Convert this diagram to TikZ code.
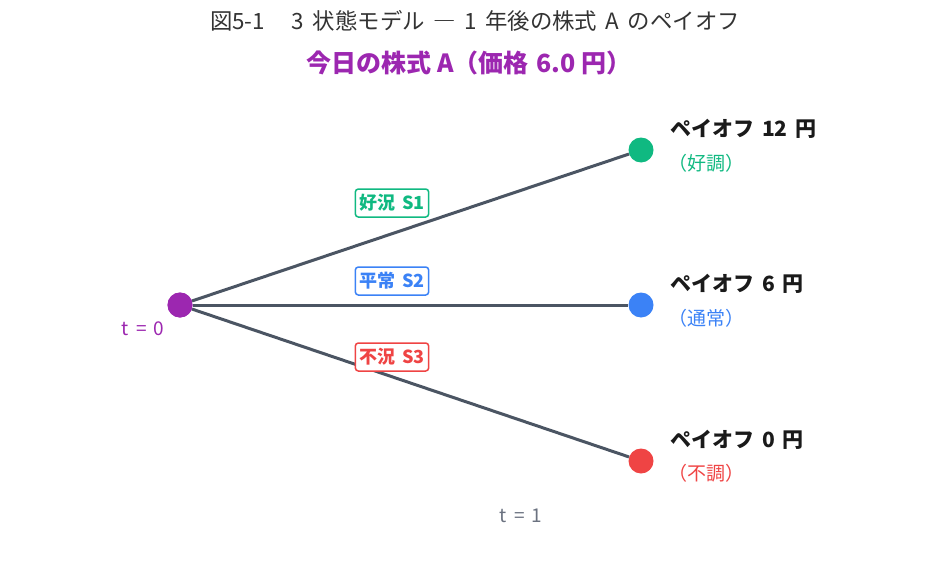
\documentclass[tikz,border=0pt]{standalone}
\usepackage{fontspec}
\setmainfont{Noto Sans CJK JP}
\definecolor{cpurple}{HTML}{9C27B0}
\definecolor{cgreen}{HTML}{10B981}
\definecolor{cblue}{HTML}{3B82F6}
\definecolor{cred}{HTML}{EF4444}
\definecolor{cline}{HTML}{4B5563}
\definecolor{ctitle}{HTML}{333333}
\definecolor{cdark}{HTML}{1A1A1A}
\definecolor{cgray}{HTML}{6B7280}
\newcommand{\gapsp}{\hspace{0.38em}}
\tikzset{
  dot/.style={circle, fill=#1, inner sep=0pt, minimum size=25pt},
  branch/.style={draw=cline, line width=3pt},
  statebox/.style={draw=#1, text=#1, fill=white, line width=1.5pt, rounded corners=3pt,
    font=\fontsize{18}{21}\selectfont\bfseries, inner xsep=4pt, inner ysep=0pt,
    minimum height=28pt},
  payoff/.style={anchor=west, text=cdark, font=\fontsize{21}{24}\selectfont\bfseries, inner sep=0pt},
  sublab/.style={anchor=west, text=#1, font=\fontsize{19}{22}\selectfont, inner sep=0pt},
  tlab/.style={text=#1, font=\fontsize{19}{22}\selectfont},
}
\begin{document}
\begin{tikzpicture}[x=1pt, y=-1pt]
\useasboundingbox (0,0) rectangle (950,578);
\node[text=ctitle, font=\fontsize{22.4}{26}\selectfont] (title) at (475,21) {図5-1\hspace{1.2em}3\gapsp 状態モデル\gapsp ―\gapsp 1\gapsp 年後の株式\gapsp A\gapsp のペイオフ};
\node[text=cpurple, font=\fontsize{25}{29}\selectfont\bfseries] (sub) at (469,63) {今日の株式 A（価格\hspace{0.3em}6.0 円）};
\node[dot=cpurple] (root) at (180,305) {};
\node[dot=cgreen] (up) at (641,150) {};
\node[dot=cblue] (mid) at (641,305) {};
\node[dot=cred] (down) at (641,461) {};
\draw[branch] (root) -- (up);
\draw[branch] (root) -- (mid);
\draw[branch] (root) -- (down);
\node[dot=cpurple] at (root) {};
\node[statebox=cgreen] (s1) at (392,203) {好況\gapsp S1};
\node[statebox=cblue] (s2) at (392,281) {平常\gapsp S2};
\node[statebox=cred] (s3) at (392,357) {不況\gapsp S3};
\node[payoff] (p1) at (670,129) {ペイオフ\gapsp 12\gapsp 円};
\node[payoff] (p2) at (670,284) {ペイオフ\gapsp 6\gapsp 円};
\node[payoff] (p3) at (670,440) {ペイオフ\gapsp 0\gapsp 円};
\node[sublab=cgreen] (l1) at (668,163) {（好調）};
\node[sublab=cblue] (l2) at (668,318) {（通常）};
\node[sublab=cred] (l3) at (668,473) {（不調）};
\node[tlab=cpurple] (t0) at (143,329) {t\gapsp =\gapsp 0};
\node[tlab=cgray] (t1) at (521,516) {t\gapsp =\gapsp 1};
\end{tikzpicture}
\end{document}
